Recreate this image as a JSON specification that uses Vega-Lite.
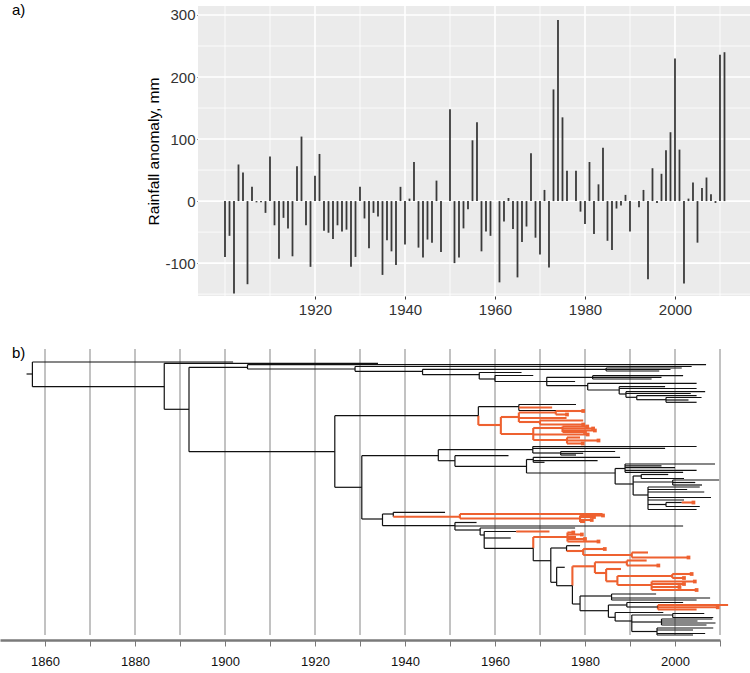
{
  "$schema": "https://vega.github.io/schema/vega-lite/v6.json",
  "padding": {"left": 0, "top": 3, "right": 0, "bottom": 0},
  "background": "white",
  "config": {"view": {"stroke": null}, "font": "Liberation Sans", "concat": {"spacing": 27}},
  "datasets": {
    "rain": [
      {"year":1900,"anomaly":-90},{"year":1901,"anomaly":-56},{"year":1902,"anomaly":-149},{"year":1903,"anomaly":59},{"year":1904,"anomaly":46},
      {"year":1905,"anomaly":-134},{"year":1906,"anomaly":23},{"year":1907,"anomaly":-2},{"year":1908,"anomaly":-2},{"year":1909,"anomaly":-19},
      {"year":1910,"anomaly":72},{"year":1911,"anomaly":-39},{"year":1912,"anomaly":-93},{"year":1913,"anomaly":-27},{"year":1914,"anomaly":-44},
      {"year":1915,"anomaly":-89},{"year":1916,"anomaly":56},{"year":1917,"anomaly":104},{"year":1918,"anomaly":-39},{"year":1919,"anomaly":-106},
      {"year":1920,"anomaly":41},{"year":1921,"anomaly":76},{"year":1922,"anomaly":-48},{"year":1923,"anomaly":-51},{"year":1924,"anomaly":-61},
      {"year":1925,"anomaly":-39},{"year":1926,"anomaly":-49},{"year":1927,"anomaly":-46},{"year":1928,"anomaly":-106},{"year":1929,"anomaly":-90},
      {"year":1930,"anomaly":23},{"year":1931,"anomaly":-28},{"year":1932,"anomaly":-76},{"year":1933,"anomaly":-19},{"year":1934,"anomaly":-25},
      {"year":1935,"anomaly":-119},{"year":1936,"anomaly":-63},{"year":1937,"anomaly":-81},{"year":1938,"anomaly":-103},{"year":1939,"anomaly":23},
      {"year":1940,"anomaly":-70},{"year":1941,"anomaly":4},{"year":1942,"anomaly":63},{"year":1943,"anomaly":-75},{"year":1944,"anomaly":-91},
      {"year":1945,"anomaly":-62},{"year":1946,"anomaly":-67},{"year":1947,"anomaly":33},{"year":1948,"anomaly":-82},{"year":1949,"anomaly":0},
      {"year":1950,"anomaly":148},{"year":1951,"anomaly":-100},{"year":1952,"anomaly":-91},{"year":1953,"anomaly":-44},{"year":1954,"anomaly":-13},
      {"year":1955,"anomaly":98},{"year":1956,"anomaly":127},{"year":1957,"anomaly":-81},{"year":1958,"anomaly":-49},{"year":1959,"anomaly":-56},
      {"year":1960,"anomaly":0},{"year":1961,"anomaly":-131},{"year":1962,"anomaly":-33},{"year":1963,"anomaly":5},{"year":1964,"anomaly":-45},
      {"year":1965,"anomaly":-123},{"year":1966,"anomaly":-66},{"year":1967,"anomaly":-41},{"year":1968,"anomaly":77},{"year":1969,"anomaly":-59},
      {"year":1970,"anomaly":-86},{"year":1971,"anomaly":18},{"year":1972,"anomaly":-107},{"year":1973,"anomaly":180},{"year":1974,"anomaly":292},
      {"year":1975,"anomaly":135},{"year":1976,"anomaly":49},{"year":1977,"anomaly":0},{"year":1978,"anomaly":49},{"year":1979,"anomaly":-17},
      {"year":1980,"anomaly":-37},{"year":1981,"anomaly":63},{"year":1982,"anomaly":-53},{"year":1983,"anomaly":27},{"year":1984,"anomaly":86},
      {"year":1985,"anomaly":-64},{"year":1986,"anomaly":-79},{"year":1987,"anomaly":-12},{"year":1988,"anomaly":-7},{"year":1989,"anomaly":10},
      {"year":1990,"anomaly":-49},{"year":1991,"anomaly":0},{"year":1992,"anomaly":-10},{"year":1993,"anomaly":18},{"year":1994,"anomaly":-126},
      {"year":1995,"anomaly":53},{"year":1996,"anomaly":-3},{"year":1997,"anomaly":44},{"year":1998,"anomaly":82},{"year":1999,"anomaly":111},
      {"year":2000,"anomaly":230},{"year":2001,"anomaly":83},{"year":2002,"anomaly":-133},{"year":2003,"anomaly":4},{"year":2004,"anomaly":30},
      {"year":2005,"anomaly":-67},{"year":2006,"anomaly":21},{"year":2007,"anomaly":38},{"year":2008,"anomaly":11},{"year":2009,"anomaly":-3},
      {"year":2010,"anomaly":236},{"year":2011,"anomaly":240}
    ],
    "ygrid": [
      {"v":-150,"t":"minor"},{"v":-100,"t":"major"},{"v":-50,"t":"minor"},{"v":0,"t":"major"},{"v":50,"t":"minor"},
      {"v":100,"t":"major"},{"v":150,"t":"minor"},{"v":200,"t":"major"},{"v":250,"t":"minor"},{"v":300,"t":"major"}
    ],
    "xgrid": [
      {"v":1900,"t":"minor"},{"v":1910,"t":"minor"},{"v":1920,"t":"major"},{"v":1930,"t":"minor"},{"v":1940,"t":"major"},
      {"v":1950,"t":"minor"},{"v":1960,"t":"major"},{"v":1970,"t":"minor"},{"v":1980,"t":"major"},{"v":1990,"t":"minor"},
      {"v":2000,"t":"major"},{"v":2010,"t":"minor"}
    ],
    "decades": [
      {"v":1860},{"v":1870},{"v":1880},{"v":1890},{"v":1900},{"v":1910},{"v":1920},{"v":1930},
      {"v":1940},{"v":1950},{"v":1960},{"v":1970},{"v":1980},{"v":1990},{"v":2000},{"v":2010}
    ],
    "hseg": [
      {"x0":1855.9,"x1":1857.2,"y":375,"c":"k"},
      {"x0":1857.2,"x1":1901.8,"y":363,"c":"k"},
      {"x0":1857.2,"x1":1886.5,"y":387.7,"c":"k"},
      {"x0":1886.5,"x1":1934.0,"y":364.3,"c":"k"},
      {"x0":1886.5,"x1":1892.0,"y":410.3,"c":"k"},
      {"x0":1892.0,"x1":1905.0,"y":368.3,"c":"k"},
      {"x0":1892.0,"x1":1924.4,"y":452.7,"c":"k"},
      {"x0":1905.0,"x1":2006.9,"y":365.7,"c":"k"},
      {"x0":1905.0,"x1":1928.9,"y":370,"c":"k"},
      {"x0":1928.9,"x1":2003.7,"y":367.5,"c":"k"},
      {"x0":1928.9,"x1":1943.9,"y":372.3,"c":"k"},
      {"x0":1943.9,"x1":1984.7,"y":370.3,"c":"k"},
      {"x0":1943.9,"x1":1956.5,"y":375.7,"c":"k"},
      {"x0":1984.7,"x1":2001.5,"y":369,"c":"k"},
      {"x0":1984.7,"x1":1999.0,"y":370.5,"c":"k"},
      {"x0":1984.7,"x1":1996.5,"y":372,"c":"k"},
      {"x0":1956.5,"x1":1965.9,"y":373.5,"c":"k"},
      {"x0":1956.5,"x1":1960.0,"y":380,"c":"k"},
      {"x0":1960.0,"x1":1968.5,"y":376.5,"c":"k"},
      {"x0":1960.0,"x1":1977.8,"y":382.5,"c":"k"},
      {"x0":1971.5,"x1":1981.7,"y":378.3,"c":"k"},
      {"x0":1971.5,"x1":1980.6,"y":386.7,"c":"k"},
      {"x0":1981.7,"x1":2001.8,"y":376.7,"c":"k"},
      {"x0":1981.7,"x1":1997.0,"y":378.3,"c":"k"},
      {"x0":1981.7,"x1":1994.8,"y":380,"c":"k"},
      {"x0":1980.6,"x1":2004.8,"y":384.3,"c":"k"},
      {"x0":1980.6,"x1":1987.6,"y":391,"c":"k"},
      {"x0":1987.6,"x1":1997.8,"y":387.7,"c":"k"},
      {"x0":1987.6,"x1":2004.8,"y":389.5,"c":"k"},
      {"x0":1987.6,"x1":1989.1,"y":395,"c":"k"},
      {"x0":1989.1,"x1":2006.7,"y":392.7,"c":"k"},
      {"x0":1989.1,"x1":2003.5,"y":394.5,"c":"k"},
      {"x0":1989.1,"x1":1991.5,"y":398.3,"c":"k"},
      {"x0":1991.5,"x1":2004.8,"y":396.7,"c":"k"},
      {"x0":1991.5,"x1":1998.0,"y":400.7,"c":"k"},
      {"x0":1998.0,"x1":2005.9,"y":398.5,"c":"k"},
      {"x0":1998.0,"x1":2003.0,"y":401,"c":"k"},
      {"x0":1998.0,"x1":2004.8,"y":403.3,"c":"k"},
      {"x0":1924.4,"x1":1956.3,"y":416.7,"c":"k"},
      {"x0":1924.4,"x1":1930.4,"y":488.3,"c":"k"},
      {"x0":1956.3,"x1":1965.3,"y":407.7,"c":"k"},
      {"x0":1956.3,"x1":1961.3,"y":426,"c":"o"},
      {"x0":1965.3,"x1":1978.0,"y":405.5,"c":"k"},
      {"x0":1965.3,"x1":1972.7,"y":408.5,"c":"o"},
      {"x0":1965.3,"x1":1977.8,"y":411.5,"c":"k"},
      {"x0":1961.3,"x1":1965.3,"y":418,"c":"o"},
      {"x0":1961.3,"x1":1968.5,"y":435,"c":"o"},
      {"x0":1965.3,"x1":1973.5,"y":413.5,"c":"o"},
      {"x0":1965.3,"x1":1975.9,"y":419,"c":"o"},
      {"x0":1965.3,"x1":1970.0,"y":423,"c":"o"},
      {"x0":1973.5,"x1":1979.6,"y":412,"c":"o","m":1},
      {"x0":1973.5,"x1":1976.0,"y":415.5,"c":"o","m":1},
      {"x0":1970.0,"x1":1979.6,"y":421.5,"c":"o"},
      {"x0":1970.0,"x1":1979.6,"y":425.5,"c":"o","m":1},
      {"x0":1968.5,"x1":1975.0,"y":429,"c":"o"},
      {"x0":1968.5,"x1":1980.6,"y":435.5,"c":"o","m":1},
      {"x0":1968.5,"x1":1976.0,"y":441,"c":"o"},
      {"x0":1975.0,"x1":1980.5,"y":427.5,"c":"o","m":1},
      {"x0":1975.0,"x1":1981.8,"y":429.5,"c":"o","m":1},
      {"x0":1975.0,"x1":1982.2,"y":431.5,"c":"o","m":1},
      {"x0":1975.0,"x1":1980.0,"y":433,"c":"o","m":1},
      {"x0":1976.0,"x1":1978.9,"y":438.5,"c":"o"},
      {"x0":1976.0,"x1":1983.0,"y":441.5,"c":"o","m":1},
      {"x0":1976.0,"x1":1979.5,"y":444.5,"c":"o","m":1},
      {"x0":1930.4,"x1":1947.4,"y":456.7,"c":"k"},
      {"x0":1930.4,"x1":1935.0,"y":520,"c":"k"},
      {"x0":1947.4,"x1":1968.4,"y":450.7,"c":"k"},
      {"x0":1947.4,"x1":1951.1,"y":461.7,"c":"k"},
      {"x0":1968.4,"x1":2004.8,"y":447.5,"c":"k"},
      {"x0":1968.4,"x1":1997.8,"y":449.3,"c":"k"},
      {"x0":1968.4,"x1":1974.6,"y":454,"c":"k"},
      {"x0":1974.6,"x1":1986.7,"y":452.5,"c":"k"},
      {"x0":1974.6,"x1":1979.6,"y":454.3,"c":"k"},
      {"x0":1974.6,"x1":1978.0,"y":456,"c":"k"},
      {"x0":1951.1,"x1":1963.0,"y":456.7,"c":"k"},
      {"x0":1951.1,"x1":1967.0,"y":467.3,"c":"k"},
      {"x0":1967.0,"x1":1968.5,"y":460.5,"c":"k"},
      {"x0":1967.0,"x1":1986.7,"y":474,"c":"k"},
      {"x0":1968.5,"x1":1987.8,"y":458.3,"c":"k"},
      {"x0":1968.5,"x1":1982.8,"y":461.7,"c":"k"},
      {"x0":1968.5,"x1":1971.0,"y":463.3,"c":"k"},
      {"x0":1986.7,"x1":1988.9,"y":469.5,"c":"k"},
      {"x0":1986.7,"x1":1990.7,"y":485,"c":"k"},
      {"x0":1988.9,"x1":2008.9,"y":465,"c":"k"},
      {"x0":1988.9,"x1":1997.0,"y":466.8,"c":"k"},
      {"x0":1988.9,"x1":2000.0,"y":468.6,"c":"k"},
      {"x0":1988.9,"x1":2004.8,"y":471.3,"c":"k"},
      {"x0":1988.9,"x1":2001.8,"y":473.3,"c":"k"},
      {"x0":1990.7,"x1":1992.5,"y":477,"c":"k"},
      {"x0":1990.7,"x1":1999.5,"y":483,"c":"k"},
      {"x0":1990.7,"x1":1994.0,"y":496,"c":"k"},
      {"x0":1992.5,"x1":1998.5,"y":475.5,"c":"k"},
      {"x0":1992.5,"x1":2002.0,"y":479.5,"c":"k"},
      {"x0":1999.5,"x1":2009.8,"y":481,"c":"k"},
      {"x0":1999.5,"x1":2004.5,"y":483.5,"c":"k"},
      {"x0":1999.5,"x1":2006.0,"y":486,"c":"k"},
      {"x0":1994.0,"x1":2005.5,"y":488,"c":"k"},
      {"x0":1994.0,"x1":2002.7,"y":490.5,"c":"k"},
      {"x0":1994.0,"x1":2006.5,"y":493,"c":"k"},
      {"x0":1994.0,"x1":2008.0,"y":498.5,"c":"k"},
      {"x0":1994.0,"x1":2002.0,"y":501,"c":"k"},
      {"x0":1994.0,"x1":1998.0,"y":505.5,"c":"k"},
      {"x0":1994.0,"x1":2004.8,"y":510.5,"c":"k"},
      {"x0":1998.0,"x1":2001.5,"y":503.5,"c":"k"},
      {"x0":2001.5,"x1":2004.1,"y":503.5,"c":"o","m":1},
      {"x0":1998.0,"x1":2005.5,"y":507.5,"c":"k"},
      {"x0":1935.0,"x1":1937.4,"y":515,"c":"k"},
      {"x0":1935.0,"x1":1951.1,"y":526.7,"c":"k"},
      {"x0":1937.4,"x1":1948.9,"y":513.3,"c":"k"},
      {"x0":1937.4,"x1":1952.2,"y":517.7,"c":"o"},
      {"x0":1952.2,"x1":1983.9,"y":515,"c":"o"},
      {"x0":1952.2,"x1":1978.9,"y":519.5,"c":"o"},
      {"x0":1978.9,"x1":1984.0,"y":516.5,"c":"o","m":1},
      {"x0":1978.9,"x1":1982.0,"y":518,"c":"o","m":1},
      {"x0":1978.9,"x1":1981.5,"y":521,"c":"o","m":1},
      {"x0":1978.9,"x1":1980.0,"y":523,"c":"o"},
      {"x0":1951.1,"x1":1955.9,"y":523.5,"c":"k"},
      {"x0":1951.1,"x1":2001.8,"y":527,"c":"k"},
      {"x0":1951.1,"x1":1956.7,"y":531,"c":"k"},
      {"x0":1956.7,"x1":1977.8,"y":529,"c":"k"},
      {"x0":1956.7,"x1":1957.6,"y":536,"c":"k"},
      {"x0":1957.6,"x1":1964.7,"y":532.5,"c":"k"},
      {"x0":1964.7,"x1":1972.1,"y":532.5,"c":"o"},
      {"x0":1957.6,"x1":1963.5,"y":539,"c":"k"},
      {"x0":1957.6,"x1":1968.5,"y":549.3,"c":"k"},
      {"x0":1968.5,"x1":1976.1,"y":538,"c":"o"},
      {"x0":1968.5,"x1":1972.4,"y":561.7,"c":"k"},
      {"x0":1976.1,"x1":1977.4,"y":533.5,"c":"o","m":1},
      {"x0":1976.1,"x1":1979.3,"y":535.5,"c":"o","m":1},
      {"x0":1976.1,"x1":1978.0,"y":538,"c":"o"},
      {"x0":1976.1,"x1":1980.0,"y":540,"c":"o","m":1},
      {"x0":1976.1,"x1":1983.0,"y":542.5,"c":"o","m":1},
      {"x0":1972.4,"x1":1975.9,"y":549,"c":"k"},
      {"x0":1972.4,"x1":1973.7,"y":583.3,"c":"k"},
      {"x0":1975.9,"x1":1978.9,"y":546.7,"c":"k"},
      {"x0":1975.9,"x1":1979.6,"y":552,"c":"o"},
      {"x0":1979.6,"x1":1984.4,"y":550,"c":"o","m":1},
      {"x0":1979.6,"x1":1990.4,"y":556,"c":"o"},
      {"x0":1990.4,"x1":1994.0,"y":553.5,"c":"o"},
      {"x0":1990.4,"x1":2003.0,"y":558.5,"c":"o","m":1},
      {"x0":1973.7,"x1":1975.5,"y":568.3,"c":"k"},
      {"x0":1973.7,"x1":1977.2,"y":586.7,"c":"k"},
      {"x0":1977.2,"x1":1982.2,"y":567.3,"c":"o"},
      {"x0":1977.2,"x1":1978.9,"y":605,"c":"k"},
      {"x0":1982.2,"x1":1989.3,"y":563.3,"c":"o"},
      {"x0":1982.2,"x1":1984.7,"y":574,"c":"o"},
      {"x0":1989.3,"x1":1993.7,"y":561.5,"c":"o"},
      {"x0":1989.3,"x1":1996.3,"y":566.5,"c":"o","m":1},
      {"x0":1984.7,"x1":1988.0,"y":570,"c":"o"},
      {"x0":1984.7,"x1":1987.2,"y":582.3,"c":"o"},
      {"x0":1987.2,"x1":1999.4,"y":577,"c":"o"},
      {"x0":1987.2,"x1":1994.8,"y":586,"c":"o"},
      {"x0":1999.4,"x1":2003.7,"y":575,"c":"o","m":1},
      {"x0":1999.4,"x1":2002.0,"y":579,"c":"o","m":1},
      {"x0":1994.8,"x1":2004.4,"y":582.5,"c":"o","m":1},
      {"x0":1994.8,"x1":2002.0,"y":585,"c":"o","m":1},
      {"x0":1994.8,"x1":2001.0,"y":588,"c":"o","m":1},
      {"x0":1994.8,"x1":2004.8,"y":591,"c":"o","m":1},
      {"x0":1978.9,"x1":1985.9,"y":597,"c":"k"},
      {"x0":1978.9,"x1":1985.2,"y":611.7,"c":"k"},
      {"x0":1985.9,"x1":1995.8,"y":595,"c":"k"},
      {"x0":1985.9,"x1":2007.8,"y":599,"c":"k"},
      {"x0":1985.9,"x1":2004.8,"y":601,"c":"k"},
      {"x0":1985.2,"x1":1989.3,"y":606,"c":"k"},
      {"x0":1985.2,"x1":1986.7,"y":618.3,"c":"k"},
      {"x0":1989.3,"x1":2001.8,"y":603.5,"c":"k"},
      {"x0":1989.3,"x1":1996.2,"y":608,"c":"k"},
      {"x0":1996.2,"x1":2011.8,"y":606,"c":"o"},
      {"x0":1996.2,"x1":2009.5,"y":608.3,"c":"o","m":1},
      {"x0":1996.2,"x1":2004.8,"y":610.5,"c":"o"},
      {"x0":1986.7,"x1":1997.4,"y":613.5,"c":"k"},
      {"x0":1986.7,"x1":1990.4,"y":622,"c":"k"},
      {"x0":1990.4,"x1":1999.5,"y":616,"c":"k"},
      {"x0":1990.4,"x1":1997.0,"y":623,"c":"k"},
      {"x0":1990.4,"x1":1996.0,"y":632.5,"c":"k"},
      {"x0":1999.5,"x1":2006.5,"y":614.5,"c":"k"},
      {"x0":1999.5,"x1":2008.5,"y":618.5,"c":"k"},
      {"x0":1997.0,"x1":2008.3,"y":620,"c":"k"},
      {"x0":1997.0,"x1":2005.0,"y":622,"c":"k"},
      {"x0":1997.0,"x1":2009.0,"y":624,"c":"k"},
      {"x0":1997.0,"x1":2007.0,"y":626,"c":"k"},
      {"x0":1996.0,"x1":2008.5,"y":629,"c":"k"},
      {"x0":1996.0,"x1":2004.0,"y":631,"c":"k"},
      {"x0":1996.0,"x1":2006.7,"y":634.5,"c":"k"},
      {"x0":1996.0,"x1":2004.0,"y":636,"c":"k"}
    ],
    "vseg": [
      {"x":1857.2,"y0":363,"y1":387.7,"c":"k"},
      {"x":1886.5,"y0":364.3,"y1":410.3,"c":"k"},
      {"x":1892.0,"y0":368.3,"y1":452.7,"c":"k"},
      {"x":1905.0,"y0":365.7,"y1":370,"c":"k"},
      {"x":1928.9,"y0":367.5,"y1":372.3,"c":"k"},
      {"x":1943.9,"y0":370.3,"y1":375.7,"c":"k"},
      {"x":1984.7,"y0":369,"y1":372,"c":"k"},
      {"x":1956.5,"y0":373.5,"y1":380,"c":"k"},
      {"x":1960.0,"y0":376.5,"y1":382.5,"c":"k"},
      {"x":1971.5,"y0":378.3,"y1":386.7,"c":"k"},
      {"x":1981.7,"y0":376.7,"y1":380,"c":"k"},
      {"x":1980.6,"y0":384.3,"y1":391,"c":"k"},
      {"x":1987.6,"y0":387.7,"y1":395,"c":"k"},
      {"x":1989.1,"y0":392.7,"y1":398.3,"c":"k"},
      {"x":1991.5,"y0":396.7,"y1":400.7,"c":"k"},
      {"x":1998.0,"y0":398.5,"y1":403.3,"c":"k"},
      {"x":1924.4,"y0":416.7,"y1":488.3,"c":"k"},
      {"x":1956.3,"y0":407.7,"y1":416.7,"c":"k"},
      {"x":1956.3,"y0":416.7,"y1":426,"c":"o"},
      {"x":1965.3,"y0":405.5,"y1":411.5,"c":"k"},
      {"x":1961.3,"y0":418,"y1":435,"c":"o"},
      {"x":1965.3,"y0":413.5,"y1":423,"c":"o"},
      {"x":1973.5,"y0":412,"y1":415.5,"c":"o"},
      {"x":1970.0,"y0":421.5,"y1":425.5,"c":"o"},
      {"x":1968.5,"y0":429,"y1":441,"c":"o"},
      {"x":1975.0,"y0":427.5,"y1":433,"c":"o"},
      {"x":1976.0,"y0":438.5,"y1":444.5,"c":"o"},
      {"x":1930.4,"y0":456.7,"y1":520,"c":"k"},
      {"x":1947.4,"y0":450.7,"y1":461.7,"c":"k"},
      {"x":1968.4,"y0":447.5,"y1":454,"c":"k"},
      {"x":1974.6,"y0":452.5,"y1":456,"c":"k"},
      {"x":1951.1,"y0":456.7,"y1":467.3,"c":"k"},
      {"x":1967.0,"y0":460.5,"y1":474,"c":"k"},
      {"x":1968.5,"y0":458.3,"y1":463.3,"c":"k"},
      {"x":1986.7,"y0":469.5,"y1":485,"c":"k"},
      {"x":1988.9,"y0":465,"y1":473.3,"c":"k"},
      {"x":1990.7,"y0":477,"y1":496,"c":"k"},
      {"x":1992.5,"y0":475.5,"y1":479.5,"c":"k"},
      {"x":1999.5,"y0":481,"y1":486,"c":"k"},
      {"x":1994.0,"y0":488,"y1":510.5,"c":"k"},
      {"x":1998.0,"y0":503.5,"y1":507.5,"c":"k"},
      {"x":1935.0,"y0":515,"y1":526.7,"c":"k"},
      {"x":1937.4,"y0":513.3,"y1":517.7,"c":"k"},
      {"x":1952.2,"y0":515,"y1":519.5,"c":"o"},
      {"x":1978.9,"y0":516.5,"y1":523,"c":"o"},
      {"x":1951.1,"y0":523.5,"y1":531,"c":"k"},
      {"x":1956.7,"y0":529,"y1":536,"c":"k"},
      {"x":1957.6,"y0":532.5,"y1":549.3,"c":"k"},
      {"x":1968.5,"y0":538,"y1":549.3,"c":"o"},
      {"x":1968.5,"y0":549.3,"y1":561.7,"c":"k"},
      {"x":1976.1,"y0":533.5,"y1":542.5,"c":"o"},
      {"x":1972.4,"y0":549,"y1":583.3,"c":"k"},
      {"x":1975.9,"y0":546.7,"y1":552,"c":"k"},
      {"x":1979.6,"y0":550,"y1":556,"c":"o"},
      {"x":1990.4,"y0":553.5,"y1":558.5,"c":"o"},
      {"x":1973.7,"y0":568.3,"y1":586.7,"c":"k"},
      {"x":1977.2,"y0":567.3,"y1":586.7,"c":"o"},
      {"x":1977.2,"y0":586.7,"y1":605,"c":"k"},
      {"x":1982.2,"y0":563.3,"y1":574,"c":"o"},
      {"x":1989.3,"y0":561.5,"y1":566.5,"c":"o"},
      {"x":1984.7,"y0":570,"y1":582.3,"c":"o"},
      {"x":1987.2,"y0":577,"y1":586,"c":"o"},
      {"x":1999.4,"y0":575,"y1":579,"c":"o"},
      {"x":1994.8,"y0":582.5,"y1":591,"c":"o"},
      {"x":1978.9,"y0":597,"y1":611.7,"c":"k"},
      {"x":1985.9,"y0":595,"y1":601,"c":"k"},
      {"x":1985.2,"y0":606,"y1":618.3,"c":"k"},
      {"x":1989.3,"y0":603.5,"y1":608,"c":"k"},
      {"x":1996.2,"y0":606,"y1":610.5,"c":"o"},
      {"x":1986.7,"y0":613.5,"y1":622,"c":"k"},
      {"x":1990.4,"y0":616,"y1":632.5,"c":"k"},
      {"x":1999.5,"y0":614.5,"y1":618.5,"c":"k"},
      {"x":1997.0,"y0":620,"y1":626,"c":"k"},
      {"x":1996.0,"y0":629,"y1":636,"c":"k"}
    ]
  },
  "vconcat": [
    {
      "width": 750,
      "height": 290,
      "title": {"text": "a)", "anchor": "start", "frame": "group", "dx": 12, "offset": -13, "fontSize": 15, "fontWeight": "normal", "font": "Liberation Sans", "color": "#000"},
      "resolve": {"axis": {"x": "independent", "y": "independent"}},
      "layer": [
        {
          "data": {"values": [{}]},
          "mark": {"type": "rect", "fill": "#ebebeb", "stroke": null, "opacity": 1},
          "encoding": {
            "x": {"datum": 1894, "type": "quantitative", "axis": null},
            "x2": {"datum": 2016.67},
            "y": {"datum": -153, "type": "quantitative", "axis": null},
            "y2": {"datum": 314.5}
          }
        },
        {
          "data": {"name": "ygrid"},
          "mark": {"type": "rule", "color": "white"},
          "encoding": {
            "y": {"field": "v", "type": "quantitative", "axis": null},
            "x": {"datum": 1894, "type": "quantitative", "axis": null},
            "x2": {"datum": 2016.67},
            "strokeWidth": {"condition": {"test": "datum.t == 'major'", "value": 1.6}, "value": 0.8}
          }
        },
        {
          "data": {"name": "xgrid"},
          "mark": {"type": "rule", "color": "white"},
          "encoding": {
            "x": {"field": "v", "type": "quantitative", "axis": null},
            "y": {"datum": -153, "type": "quantitative", "axis": null},
            "y2": {"datum": 314.5},
            "strokeWidth": {"condition": {"test": "datum.t == 'major'", "value": 1.6}, "value": 0.8}
          }
        },
        {
          "data": {"name": "rain"},
          "mark": {"type": "rule", "color": "#3a3a3a", "strokeWidth": 1.8},
          "encoding": {
            "x": {
              "field": "year", "type": "quantitative",
              "scale": {"domain": [1850, 2016.67], "nice": false, "zero": false},
              "axis": {"orient": "bottom", "values": [1920, 1940, 1960, 1980, 2000], "format": "d", "grid": false, "domain": false, "tickSize": 3, "tickColor": "#333", "labelFontSize": 15, "labelFont": "Liberation Sans", "labelColor": "#333", "labelPadding": 3, "title": null}
            },
            "y": {
              "field": "anomaly", "type": "quantitative",
              "scale": {"domain": [-153, 314.5], "nice": false, "zero": false},
              "axis": {"orient": "left", "values": [-100, 0, 100, 200, 300], "labelExpr": "datum.value < 0 ? '-' + abs(datum.value) : '' + datum.value", "offset": -200, "grid": false, "domain": false, "tickSize": 3, "tickColor": "#333", "labelFontSize": 15, "labelFont": "Liberation Sans", "labelColor": "#333", "labelPadding": 2, "title": "Rainfall anomaly, mm", "titleFont": "Liberation Sans", "titleFontSize": 15.5, "titleFontWeight": "normal", "titleColor": "#000", "titlePadding": 3}
            },
            "y2": {"datum": 0}
          }
        }
      ]
    },
    {
      "width": 720,
      "height": 296,
      "title": {"text": "b)", "anchor": "start", "frame": "group", "dx": 12, "offset": -17, "fontSize": 15, "fontWeight": "normal", "font": "Liberation Sans", "color": "#000"},
      "resolve": {"axis": {"x": "independent", "y": "independent"}},
      "layer": [
        {
          "data": {"name": "decades"},
          "mark": {"type": "rule", "color": "#858585", "strokeWidth": 1},
          "encoding": {
            "x": {
              "field": "v", "type": "quantitative",
              "scale": {"domain": [1850, 2010], "nice": false, "zero": false},
              "axis": {"orient": "bottom", "values": [1860, 1870, 1880, 1890, 1900, 1910, 1920, 1930, 1940, 1950, 1960, 1970, 1980, 1990, 2000, 2010], "labelExpr": "datum.value % 20 == 0 ? '' + datum.value : ''", "grid": false, "domain": true, "domainColor": "#7a7a7a", "domainWidth": 2.5, "tickColor": "#7a7a7a", "tickSize": 6, "tickWidth": 1, "labelFontSize": 13, "labelFont": "Liberation Sans", "labelColor": "#111", "labelPadding": 9, "title": null}
            },
            "y": {"datum": 350, "type": "quantitative", "scale": {"domain": [345, 641], "reverse": true, "nice": false, "zero": false}, "axis": null},
            "y2": {"datum": 636}
          }
        },
        {
          "data": {"name": "vseg"},
          "mark": {"type": "rule"},
          "encoding": {
            "x": {"field": "x", "type": "quantitative", "axis": null},
            "y": {"field": "y0", "type": "quantitative", "axis": null},
            "y2": {"field": "y1"},
            "color": {"condition": {"test": "datum.c == 'o'", "value": "#ee6130"}, "value": "#111111"},
            "strokeWidth": {"condition": {"test": "datum.c == 'o'", "value": 2.1}, "value": 1.2}
          }
        },
        {
          "data": {"name": "hseg"},
          "mark": {"type": "rule"},
          "encoding": {
            "x": {"field": "x0", "type": "quantitative", "axis": null},
            "x2": {"field": "x1"},
            "y": {"field": "y", "type": "quantitative", "axis": null},
            "color": {"condition": {"test": "datum.c == 'o'", "value": "#ee6130"}, "value": "#111111"},
            "strokeWidth": {"condition": {"test": "datum.c == 'o'", "value": 2.1}, "value": 1.2}
          }
        },
        {
          "data": {"name": "hseg"},
          "transform": [{"filter": "datum.m == 1"}],
          "mark": {"type": "square", "filled": true, "color": "#ee6130", "size": 14, "opacity": 1},
          "encoding": {
            "x": {"field": "x1", "type": "quantitative", "axis": null},
            "y": {"field": "y", "type": "quantitative", "axis": null}
          }
        }
      ]
    }
  ]
}
